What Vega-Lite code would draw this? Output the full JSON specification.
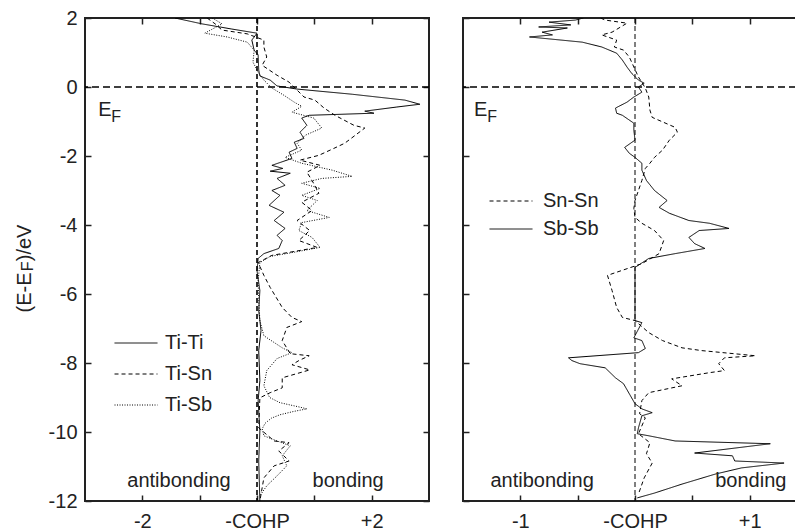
{
  "$schema": "https://vega.github.io/schema/vega-lite/v6.json",
  "padding": {"left": 13, "top": 7, "right": 0, "bottom": 0},
  "bounds": "flush",
  "spacing": 34,
  "datasets": {
    "left": [
      {"s":"Ti-Ti","E":2.0,"v":-1.43},{"s":"Ti-Ti","E":1.83,"v":-0.96},{"s":"Ti-Ti","E":1.68,"v":-0.44},{"s":"Ti-Ti","E":1.56,"v":0},{"s":"Ti-Ti","E":1.36,"v":-0.09},{"s":"Ti-Ti","E":1.07,"v":-0.05},{"s":"Ti-Ti","E":0.93,"v":0.02},{"s":"Ti-Ti","E":0.49,"v":0.03},{"s":"Ti-Ti","E":0.32,"v":0.05},{"s":"Ti-Ti","E":0.2,"v":0.23},{"s":"Ti-Ti","E":0.03,"v":0.35},{"s":"Ti-Ti","E":-0.06,"v":0.7},{"s":"Ti-Ti","E":-0.21,"v":1.66},{"s":"Ti-Ti","E":-0.38,"v":2.58},{"s":"Ti-Ti","E":-0.5,"v":2.84},{"s":"Ti-Ti","E":-0.58,"v":2.44},{"s":"Ti-Ti","E":-0.7,"v":1.88},{"s":"Ti-Ti","E":-0.76,"v":2.04},{"s":"Ti-Ti","E":-0.79,"v":1.48},{"s":"Ti-Ti","E":-0.82,"v":0.91},{"s":"Ti-Ti","E":-0.9,"v":0.78},{"s":"Ti-Ti","E":-1.11,"v":0.87},{"s":"Ti-Ti","E":-1.31,"v":0.75},{"s":"Ti-Ti","E":-1.49,"v":0.82},{"s":"Ti-Ti","E":-1.6,"v":0.65},{"s":"Ti-Ti","E":-1.78,"v":0.7},{"s":"Ti-Ti","E":-1.89,"v":0.56},{"s":"Ti-Ti","E":-2.07,"v":0.61},{"s":"Ti-Ti","E":-2.27,"v":0.26},{"s":"Ti-Ti","E":-2.36,"v":0.45},{"s":"Ti-Ti","E":-2.44,"v":0.23},{"s":"Ti-Ti","E":-2.5,"v":0.58},{"s":"Ti-Ti","E":-2.65,"v":0.35},{"s":"Ti-Ti","E":-2.85,"v":0.49},{"s":"Ti-Ti","E":-3.0,"v":0.26},{"s":"Ti-Ti","E":-3.14,"v":0.4},{"s":"Ti-Ti","E":-3.43,"v":0.21},{"s":"Ti-Ti","E":-3.63,"v":0.47},{"s":"Ti-Ti","E":-3.87,"v":0.3},{"s":"Ti-Ti","E":-4.1,"v":0.49},{"s":"Ti-Ti","E":-4.3,"v":0.35},{"s":"Ti-Ti","E":-4.45,"v":0.44},{"s":"Ti-Ti","E":-4.68,"v":0.38},{"s":"Ti-Ti","E":-4.83,"v":0.12},{"s":"Ti-Ti","E":-4.97,"v":0.02},{"s":"Ti-Ti","E":-5.32,"v":0.0},{"s":"Ti-Ti","E":-5.9,"v":0.05},{"s":"Ti-Ti","E":-6.48,"v":0.03},{"s":"Ti-Ti","E":-7.06,"v":0.07},{"s":"Ti-Ti","E":-7.64,"v":0.03},{"s":"Ti-Ti","E":-8.51,"v":0.05},{"s":"Ti-Ti","E":-9.09,"v":0.02},{"s":"Ti-Ti","E":-9.97,"v":0.05},{"s":"Ti-Ti","E":-10.84,"v":0.03},{"s":"Ti-Ti","E":-12.0,"v":0.05},
      {"s":"Ti-Sn","E":2.0,"v":-0.87},{"s":"Ti-Sn","E":1.83,"v":-0.73},{"s":"Ti-Sn","E":1.65,"v":-0.61},{"s":"Ti-Sn","E":1.54,"v":-0.17},{"s":"Ti-Sn","E":1.36,"v":0.12},{"s":"Ti-Sn","E":1.16,"v":0.12},{"s":"Ti-Sn","E":0.87,"v":0.17},{"s":"Ti-Sn","E":0.63,"v":0.09},{"s":"Ti-Sn","E":0.34,"v":0.35},{"s":"Ti-Sn","E":0.14,"v":0.56},{"s":"Ti-Sn","E":-0.29,"v":0.82},{"s":"Ti-Sn","E":-0.38,"v":1.01},{"s":"Ti-Sn","E":-0.61,"v":1.17},{"s":"Ti-Sn","E":-0.82,"v":1.36},{"s":"Ti-Sn","E":-1.11,"v":1.69},{"s":"Ti-Sn","E":-1.19,"v":1.88},{"s":"Ti-Sn","E":-1.63,"v":1.53},{"s":"Ti-Sn","E":-1.78,"v":1.34},{"s":"Ti-Sn","E":-1.98,"v":1.08},{"s":"Ti-Sn","E":-2.12,"v":0.75},{"s":"Ti-Sn","E":-2.27,"v":1.1},{"s":"Ti-Sn","E":-2.47,"v":0.87},{"s":"Ti-Sn","E":-2.71,"v":0.96},{"s":"Ti-Sn","E":-3.08,"v":1.08},{"s":"Ti-Sn","E":-3.34,"v":0.78},{"s":"Ti-Sn","E":-3.58,"v":0.96},{"s":"Ti-Sn","E":-3.87,"v":0.7},{"s":"Ti-Sn","E":-4.16,"v":0.92},{"s":"Ti-Sn","E":-4.45,"v":0.73},{"s":"Ti-Sn","E":-4.65,"v":1.05},{"s":"Ti-Sn","E":-4.88,"v":0.26},{"s":"Ti-Sn","E":-5.09,"v":0.02},{"s":"Ti-Sn","E":-5.46,"v":0.12},{"s":"Ti-Sn","E":-5.81,"v":0.23},{"s":"Ti-Sn","E":-6.39,"v":0.44},{"s":"Ti-Sn","E":-6.68,"v":0.61},{"s":"Ti-Sn","E":-6.8,"v":0.78},{"s":"Ti-Sn","E":-6.97,"v":0.52},{"s":"Ti-Sn","E":-7.35,"v":0.44},{"s":"Ti-Sn","E":-7.73,"v":0.58},{"s":"Ti-Sn","E":-7.79,"v":0.91},{"s":"Ti-Sn","E":-7.93,"v":0.73},{"s":"Ti-Sn","E":-8.05,"v":0.61},{"s":"Ti-Sn","E":-8.2,"v":0.92},{"s":"Ti-Sn","E":-8.43,"v":0.44},{"s":"Ti-Sn","E":-8.72,"v":0.44},{"s":"Ti-Sn","E":-8.86,"v":0.23},{"s":"Ti-Sn","E":-9.01,"v":0.05},{"s":"Ti-Sn","E":-9.88,"v":0.03},{"s":"Ti-Sn","E":-10.26,"v":0.3},{"s":"Ti-Sn","E":-10.31,"v":0.56},{"s":"Ti-Sn","E":-10.55,"v":0.38},{"s":"Ti-Sn","E":-10.84,"v":0.56},{"s":"Ti-Sn","E":-10.98,"v":0.3},{"s":"Ti-Sn","E":-11.33,"v":0.12},{"s":"Ti-Sn","E":-12.0,"v":0.05},
      {"s":"Ti-Sb","E":2.0,"v":-0.78},{"s":"Ti-Sb","E":1.83,"v":-0.61},{"s":"Ti-Sb","E":1.56,"v":-0.91},{"s":"Ti-Sb","E":1.45,"v":-0.52},{"s":"Ti-Sb","E":1.3,"v":-0.17},{"s":"Ti-Sb","E":1.07,"v":-0.05},{"s":"Ti-Sb","E":0.72,"v":-0.07},{"s":"Ti-Sb","E":0.43,"v":0.02},{"s":"Ti-Sb","E":0.2,"v":0.12},{"s":"Ti-Sb","E":-0.03,"v":0.26},{"s":"Ti-Sb","E":-0.24,"v":0.47},{"s":"Ti-Sb","E":-0.44,"v":0.65},{"s":"Ti-Sb","E":-0.56,"v":0.78},{"s":"Ti-Sb","E":-0.73,"v":0.61},{"s":"Ti-Sb","E":-0.9,"v":0.99},{"s":"Ti-Sb","E":-1.19,"v":1.13},{"s":"Ti-Sb","E":-1.4,"v":0.84},{"s":"Ti-Sb","E":-1.63,"v":0.7},{"s":"Ti-Sb","E":-1.83,"v":0.78},{"s":"Ti-Sb","E":-2.04,"v":0.49},{"s":"Ti-Sb","E":-2.21,"v":0.78},{"s":"Ti-Sb","E":-2.41,"v":1.31},{"s":"Ti-Sb","E":-2.59,"v":1.66},{"s":"Ti-Sb","E":-2.65,"v":1.13},{"s":"Ti-Sb","E":-2.79,"v":0.78},{"s":"Ti-Sb","E":-2.94,"v":1.1},{"s":"Ti-Sb","E":-3.14,"v":0.78},{"s":"Ti-Sb","E":-3.29,"v":1.05},{"s":"Ti-Sb","E":-3.58,"v":0.87},{"s":"Ti-Sb","E":-3.78,"v":1.26},{"s":"Ti-Sb","E":-3.93,"v":0.78},{"s":"Ti-Sb","E":-4.16,"v":0.73},{"s":"Ti-Sb","E":-4.36,"v":0.96},{"s":"Ti-Sb","E":-4.65,"v":1.1},{"s":"Ti-Sb","E":-4.8,"v":0.61},{"s":"Ti-Sb","E":-4.91,"v":0.23},{"s":"Ti-Sb","E":-5.09,"v":0.05},{"s":"Ti-Sb","E":-5.61,"v":0.02},{"s":"Ti-Sb","E":-6.19,"v":0.03},{"s":"Ti-Sb","E":-6.77,"v":0.05},{"s":"Ti-Sb","E":-7.21,"v":0.12},{"s":"Ti-Sb","E":-7.56,"v":0.44},{"s":"Ti-Sb","E":-7.7,"v":0.61},{"s":"Ti-Sb","E":-7.87,"v":0.35},{"s":"Ti-Sb","E":-8.22,"v":0.17},{"s":"Ti-Sb","E":-8.66,"v":0.12},{"s":"Ti-Sb","E":-9.0,"v":0.22},{"s":"Ti-Sb","E":-9.15,"v":0.4},{"s":"Ti-Sb","E":-9.28,"v":0.75},{"s":"Ti-Sb","E":-9.33,"v":0.87},{"s":"Ti-Sb","E":-9.4,"v":0.65},{"s":"Ti-Sb","E":-9.5,"v":0.4},{"s":"Ti-Sb","E":-9.6,"v":0.25},{"s":"Ti-Sb","E":-9.75,"v":0.14},{"s":"Ti-Sb","E":-9.91,"v":0.09},{"s":"Ti-Sb","E":-10.11,"v":0.12},{"s":"Ti-Sb","E":-10.26,"v":0.35},{"s":"Ti-Sb","E":-10.4,"v":0.58},{"s":"Ti-Sb","E":-10.69,"v":0.44},{"s":"Ti-Sb","E":-10.98,"v":0.52},{"s":"Ti-Sb","E":-11.27,"v":0.35},{"s":"Ti-Sb","E":-11.56,"v":0.17},{"s":"Ti-Sb","E":-11.85,"v":0.05}
    ],
    "right": [
      {"s":"Sb-Sb","E":2.0,"v":-0.45},{"s":"Sb-Sb","E":1.94,"v":-0.52},{"s":"Sb-Sb","E":1.88,"v":-0.75},{"s":"Sb-Sb","E":1.8,"v":-0.56},{"s":"Sb-Sb","E":1.74,"v":-0.84},{"s":"Sb-Sb","E":1.71,"v":-0.59},{"s":"Sb-Sb","E":1.59,"v":-0.81},{"s":"Sb-Sb","E":1.51,"v":-0.72},{"s":"Sb-Sb","E":1.45,"v":-0.92},{"s":"Sb-Sb","E":1.3,"v":-0.46},{"s":"Sb-Sb","E":1.16,"v":-0.29},{"s":"Sb-Sb","E":0.98,"v":-0.16},{"s":"Sb-Sb","E":0.78,"v":-0.11},{"s":"Sb-Sb","E":0.58,"v":-0.07},{"s":"Sb-Sb","E":0.4,"v":-0.03},{"s":"Sb-Sb","E":0.2,"v":0.03},{"s":"Sb-Sb","E":0.11,"v":0.08},{"s":"Sb-Sb","E":0.0,"v":0.03},{"s":"Sb-Sb","E":-0.15,"v":0.06},{"s":"Sb-Sb","E":-0.29,"v":-0.01},{"s":"Sb-Sb","E":-0.44,"v":-0.07},{"s":"Sb-Sb","E":-0.61,"v":-0.17},{"s":"Sb-Sb","E":-0.76,"v":-0.16},{"s":"Sb-Sb","E":-0.82,"v":-0.11},{"s":"Sb-Sb","E":-1.05,"v":-0.01},{"s":"Sb-Sb","E":-1.25,"v":-0.01},{"s":"Sb-Sb","E":-1.54,"v":0},{"s":"Sb-Sb","E":-1.75,"v":-0.09},{"s":"Sb-Sb","E":-1.92,"v":-0.05},{"s":"Sb-Sb","E":-2.04,"v":0},{"s":"Sb-Sb","E":-2.21,"v":0.06},{"s":"Sb-Sb","E":-2.41,"v":0.06},{"s":"Sb-Sb","E":-2.71,"v":0.1},{"s":"Sb-Sb","E":-3.0,"v":0.17},{"s":"Sb-Sb","E":-3.29,"v":0.28},{"s":"Sb-Sb","E":-3.49,"v":0.21},{"s":"Sb-Sb","E":-3.66,"v":0.3},{"s":"Sb-Sb","E":-3.87,"v":0.47},{"s":"Sb-Sb","E":-3.95,"v":0.65},{"s":"Sb-Sb","E":-4.1,"v":0.82},{"s":"Sb-Sb","E":-4.16,"v":0.56},{"s":"Sb-Sb","E":-4.36,"v":0.47},{"s":"Sb-Sb","E":-4.54,"v":0.52},{"s":"Sb-Sb","E":-4.68,"v":0.61},{"s":"Sb-Sb","E":-4.83,"v":0.35},{"s":"Sb-Sb","E":-4.97,"v":0.12},{"s":"Sb-Sb","E":-5.23,"v":0},{"s":"Sb-Sb","E":-6.77,"v":0},{"s":"Sb-Sb","E":-6.83,"v":0.06},{"s":"Sb-Sb","E":-7.27,"v":-0.01},{"s":"Sb-Sb","E":-7.35,"v":0.06},{"s":"Sb-Sb","E":-7.58,"v":0.09},{"s":"Sb-Sb","E":-7.7,"v":0.03},{"s":"Sb-Sb","E":-7.85,"v":-0.58},{"s":"Sb-Sb","E":-7.93,"v":-0.55},{"s":"Sb-Sb","E":-8.02,"v":-0.48},{"s":"Sb-Sb","E":-8.14,"v":-0.26},{"s":"Sb-Sb","E":-8.43,"v":-0.17},{"s":"Sb-Sb","E":-8.6,"v":-0.1},{"s":"Sb-Sb","E":-8.89,"v":-0.05},{"s":"Sb-Sb","E":-9.18,"v":0},{"s":"Sb-Sb","E":-9.33,"v":0.06},{"s":"Sb-Sb","E":-9.44,"v":0.15},{"s":"Sb-Sb","E":-9.53,"v":0.06},{"s":"Sb-Sb","E":-9.88,"v":0.03},{"s":"Sb-Sb","E":-10.05,"v":0.02},{"s":"Sb-Sb","E":-10.11,"v":0.12},{"s":"Sb-Sb","E":-10.26,"v":0.35},{"s":"Sb-Sb","E":-10.34,"v":1.18},{"s":"Sb-Sb","E":-10.61,"v":0.52},{"s":"Sb-Sb","E":-10.69,"v":0.85},{"s":"Sb-Sb","E":-10.84,"v":0.87},{"s":"Sb-Sb","E":-10.9,"v":1.3},{"s":"Sb-Sb","E":-11.04,"v":0.93},{"s":"Sb-Sb","E":-11.22,"v":0.7},{"s":"Sb-Sb","E":-11.51,"v":0.41},{"s":"Sb-Sb","E":-11.77,"v":0.17},{"s":"Sb-Sb","E":-11.91,"v":0.02},
      {"s":"Sn-Sn","E":2.0,"v":-0.3},{"s":"Sn-Sn","E":1.94,"v":-0.26},{"s":"Sn-Sn","E":1.85,"v":-0.07},{"s":"Sn-Sn","E":1.59,"v":-0.2},{"s":"Sn-Sn","E":1.51,"v":-0.29},{"s":"Sn-Sn","E":1.36,"v":-0.16},{"s":"Sn-Sn","E":1.16,"v":-0.18},{"s":"Sn-Sn","E":1.07,"v":-0.1},{"s":"Sn-Sn","E":0.87,"v":-0.05},{"s":"Sn-Sn","E":0.58,"v":-0.01},{"s":"Sn-Sn","E":0.29,"v":0.03},{"s":"Sn-Sn","E":-0.03,"v":0.09},{"s":"Sn-Sn","E":-0.29,"v":0.12},{"s":"Sn-Sn","E":-0.67,"v":0.13},{"s":"Sn-Sn","E":-0.88,"v":0.15},{"s":"Sn-Sn","E":-1.17,"v":0.35},{"s":"Sn-Sn","E":-1.31,"v":0.37},{"s":"Sn-Sn","E":-1.54,"v":0.3},{"s":"Sn-Sn","E":-1.83,"v":0.24},{"s":"Sn-Sn","E":-2.04,"v":0.17},{"s":"Sn-Sn","E":-2.21,"v":0.13},{"s":"Sn-Sn","E":-2.36,"v":0.09},{"s":"Sn-Sn","E":-2.71,"v":0.06},{"s":"Sn-Sn","E":-3.0,"v":0.03},{"s":"Sn-Sn","E":-3.29,"v":0},{"s":"Sn-Sn","E":-3.52,"v":-0.01},{"s":"Sn-Sn","E":-3.78,"v":0},{"s":"Sn-Sn","E":-3.95,"v":0.06},{"s":"Sn-Sn","E":-4.16,"v":0.17},{"s":"Sn-Sn","E":-4.45,"v":0.25},{"s":"Sn-Sn","E":-4.83,"v":0.21},{"s":"Sn-Sn","E":-5.12,"v":0.06},{"s":"Sn-Sn","E":-5.46,"v":-0.24},{"s":"Sn-Sn","E":-5.9,"v":-0.2},{"s":"Sn-Sn","E":-6.39,"v":-0.16},{"s":"Sn-Sn","E":-6.68,"v":-0.11},{"s":"Sn-Sn","E":-6.77,"v":0},{"s":"Sn-Sn","E":-7.12,"v":0.12},{"s":"Sn-Sn","E":-7.35,"v":0.24},{"s":"Sn-Sn","E":-7.56,"v":0.41},{"s":"Sn-Sn","E":-7.64,"v":0.58},{"s":"Sn-Sn","E":-7.79,"v":1.05},{"s":"Sn-Sn","E":-7.85,"v":0.78},{"s":"Sn-Sn","E":-8.02,"v":0.73},{"s":"Sn-Sn","E":-8.22,"v":0.78},{"s":"Sn-Sn","E":-8.28,"v":0.65},{"s":"Sn-Sn","E":-8.46,"v":0.32},{"s":"Sn-Sn","E":-8.66,"v":0.41},{"s":"Sn-Sn","E":-8.86,"v":0.12},{"s":"Sn-Sn","E":-9.09,"v":0.06},{"s":"Sn-Sn","E":-9.47,"v":0.04},{"s":"Sn-Sn","E":-9.59,"v":0.09},{"s":"Sn-Sn","E":-10.05,"v":0.03},{"s":"Sn-Sn","E":-10.31,"v":0.13},{"s":"Sn-Sn","E":-10.63,"v":0.1},{"s":"Sn-Sn","E":-10.9,"v":0.15},{"s":"Sn-Sn","E":-11.33,"v":0.08},{"s":"Sn-Sn","E":-11.8,"v":0.03}
    ]
  },
  "hconcat": [
    {
      "width": 344,
      "height": 483,
      "layer": [
        {
          "data": {"name": "left"},
          "mark": {"type": "line", "clip": true, "strokeWidth": 1, "color": "#000"},
          "encoding": {
            "x": {"field": "v", "type": "quantitative", "scale": {"domain": [-3, 3], "nice": false, "zero": false},
                  "axis": {"orient": "bottom", "values": [-2, -1, 0, 1, 2], "title": null, "labelPadding": 16, "labelExpr": "datum.value == 0 ? '-COHP' : (datum.value == 2 ? '+2' : (datum.value == -2 ? '-2' : ''))"}},
            "y": {"field": "E", "type": "quantitative", "scale": {"domain": [-12, 2], "nice": false, "zero": false},
                  "axis": {"orient": "left", "values": [2, 0, -2, -4, -6, -8, -10, -12], "labelExpr": "'' + datum.value",
                           "title": "(E-E\u00a0\u00a0)/eV", "titleX": -61, "titleY": 250, "titleAngle": 270, "titleAlign": "center", "titleBaseline": "middle"}},
            "strokeDash": {"field": "s", "type": "nominal",
                           "scale": {"domain": ["Ti-Ti", "Ti-Sn", "Ti-Sb"], "range": [[1, 0], [4, 3], [1, 1.5]]},
                           "legend": {"orient": "none", "legendX": 41, "legendY": 315, "title": null, "symbolType": "M-3,0H3", "symbolSize": 205, "labelOffset": 19, "rowPadding": 11}},
            "order": {"field": "E", "sort": "descending"}
          }
        },
        {
          "data": {"values": [{}]},
          "mark": {"type": "rule", "strokeDash": [5, 3], "strokeWidth": 1.6, "color": "#000"},
          "encoding": {"x": {"datum": 0, "type": "quantitative", "axis": {"orient": "top", "labels": false, "title": null, "values": [-2, -1, 0, 1, 2]}}}
        },
        {
          "data": {"values": [{}]},
          "mark": {"type": "rule", "strokeDash": [7, 4], "strokeWidth": 1.6, "color": "#000"},
          "encoding": {"y": {"datum": 0, "type": "quantitative", "axis": {"orient": "right", "labels": false, "title": null, "values": [2, 0, -2, -4, -6, -8, -10, -12]}}}
        },
        {
          "data": {"values": [{}]},
          "mark": {"type": "text", "text": "E", "fontSize": 20, "align": "left", "baseline": "alphabetic"},
          "encoding": {"x": {"datum": -2.77, "type": "quantitative", "axis": null}, "y": {"datum": -0.85, "type": "quantitative", "axis": null}}
        },
        {
          "data": {"values": [{}]},
          "mark": {"type": "text", "text": "F", "fontSize": 16, "align": "left", "baseline": "alphabetic"},
          "encoding": {"x": {"datum": -2.54, "type": "quantitative", "axis": null}, "y": {"datum": -1.02, "type": "quantitative", "axis": null}}
        },
        {
          "data": {"values": [{}]},
          "mark": {"type": "text", "text": "F", "fontSize": 16, "angle": 270, "align": "center", "baseline": "middle"},
          "encoding": {"x": {"datum": -3.99, "type": "quantitative", "axis": null}, "y": {"datum": -5.2, "type": "quantitative", "axis": null}}
        },
        {
          "data": {"values": [{}]},
          "mark": {"type": "text", "text": "antibonding", "fontSize": 20, "align": "center", "baseline": "alphabetic"},
          "encoding": {"x": {"datum": -1.36, "type": "quantitative", "axis": null}, "y": {"datum": -11.59, "type": "quantitative", "axis": null}}
        },
        {
          "data": {"values": [{}]},
          "mark": {"type": "text", "text": "bonding", "fontSize": 20, "align": "center", "baseline": "alphabetic"},
          "encoding": {"x": {"datum": 1.59, "type": "quantitative", "axis": null}, "y": {"datum": -11.59, "type": "quantitative", "axis": null}}
        }
      ],
      "resolve": {"axis": {"x": "independent", "y": "independent"}}
    },
    {
      "width": 344,
      "height": 483,
      "layer": [
        {
          "data": {"name": "right"},
          "mark": {"type": "line", "clip": true, "strokeWidth": 1, "color": "#000"},
          "encoding": {
            "x": {"field": "v", "type": "quantitative", "scale": {"domain": [-1.5, 1.5], "nice": false, "zero": false},
                  "axis": {"orient": "bottom", "values": [-1, -0.5, 0, 0.5, 1], "title": null, "labelPadding": 16, "labelExpr": "datum.value == 0 ? '-COHP' : (datum.value == 1 ? '+1' : (datum.value == -1 ? '-1' : ''))"}},
            "y": {"field": "E", "type": "quantitative", "scale": {"domain": [-12, 2], "nice": false, "zero": false},
                  "axis": {"orient": "left", "values": [2, 0, -2, -4, -6, -8, -10, -12], "labels": false, "title": null}},
            "strokeDash": {"field": "s", "type": "nominal",
                           "scale": {"domain": ["Sn-Sn", "Sb-Sb"], "range": [[4, 3], [1, 0]]},
                           "legend": {"orient": "none", "legendX": 38, "legendY": 173, "title": null, "symbolType": "M-3,0H3", "symbolSize": 205, "labelOffset": 22, "rowPadding": 8}},
            "order": {"field": "E", "sort": "descending"}
          }
        },
        {
          "data": {"values": [{}]},
          "mark": {"type": "rule", "strokeDash": [5, 3], "strokeWidth": 1, "color": "#000"},
          "encoding": {"x": {"datum": 0, "type": "quantitative", "axis": {"orient": "top", "labels": false, "title": null, "values": [-1, -0.5, 0, 0.5, 1]}}}
        },
        {
          "data": {"values": [{}]},
          "mark": {"type": "rule", "strokeDash": [7, 4], "strokeWidth": 1.6, "color": "#000"},
          "encoding": {"y": {"datum": 0, "type": "quantitative", "axis": {"orient": "right", "labels": false, "title": null, "values": [2, 0, -2, -4, -6, -8, -10, -12]}}}
        },
        {
          "data": {"values": [{}]},
          "mark": {"type": "text", "text": "E", "fontSize": 20, "align": "left", "baseline": "alphabetic"},
          "encoding": {"x": {"datum": -1.404, "type": "quantitative", "axis": null}, "y": {"datum": -0.85, "type": "quantitative", "axis": null}}
        },
        {
          "data": {"values": [{}]},
          "mark": {"type": "text", "text": "F", "fontSize": 16, "align": "left", "baseline": "alphabetic"},
          "encoding": {"x": {"datum": -1.288, "type": "quantitative", "axis": null}, "y": {"datum": -1.02, "type": "quantitative", "axis": null}}
        },
        {
          "data": {"values": [{}]},
          "mark": {"type": "text", "text": "antibonding", "fontSize": 20, "align": "center", "baseline": "alphabetic"},
          "encoding": {"x": {"datum": -0.81, "type": "quantitative", "axis": null}, "y": {"datum": -11.59, "type": "quantitative", "axis": null}}
        },
        {
          "data": {"values": [{}]},
          "mark": {"type": "text", "text": "bonding", "fontSize": 20, "align": "center", "baseline": "alphabetic"},
          "encoding": {"x": {"datum": 1.01, "type": "quantitative", "axis": null}, "y": {"datum": -11.59, "type": "quantitative", "axis": null}}
        }
      ],
      "resolve": {"axis": {"x": "independent", "y": "independent"}}
    }
  ],
  "resolve": {"scale": {"x": "independent", "y": "independent", "strokeDash": "independent"}, "legend": {"strokeDash": "independent"}},
  "config": {
    "view": {"stroke": "#222", "strokeWidth": 2},
    "font": "Liberation Sans",
    "axis": {"domain": false, "grid": false, "ticks": true, "tickColor": "#222", "tickWidth": 1.5, "tickSize": -6, "minExtent": 0,
             "labelFont": "Liberation Sans", "labelFontSize": 20, "labelColor": "#222", "labelPadding": 14,
             "titleFont": "Liberation Sans", "titleFontSize": 20, "titleFontWeight": "normal", "titleColor": "#222"},
    "text": {"font": "Liberation Sans", "color": "#222"},
    "legend": {"padding": 0, "offset": 0, "symbolOffset": 0, "symbolStrokeWidth": 1, "symbolStrokeColor": "#000", "symbolFillColor": "transparent",
               "labelFont": "Liberation Sans", "labelFontSize": 20, "labelColor": "#222", "labelLimit": 200}
  }
}
